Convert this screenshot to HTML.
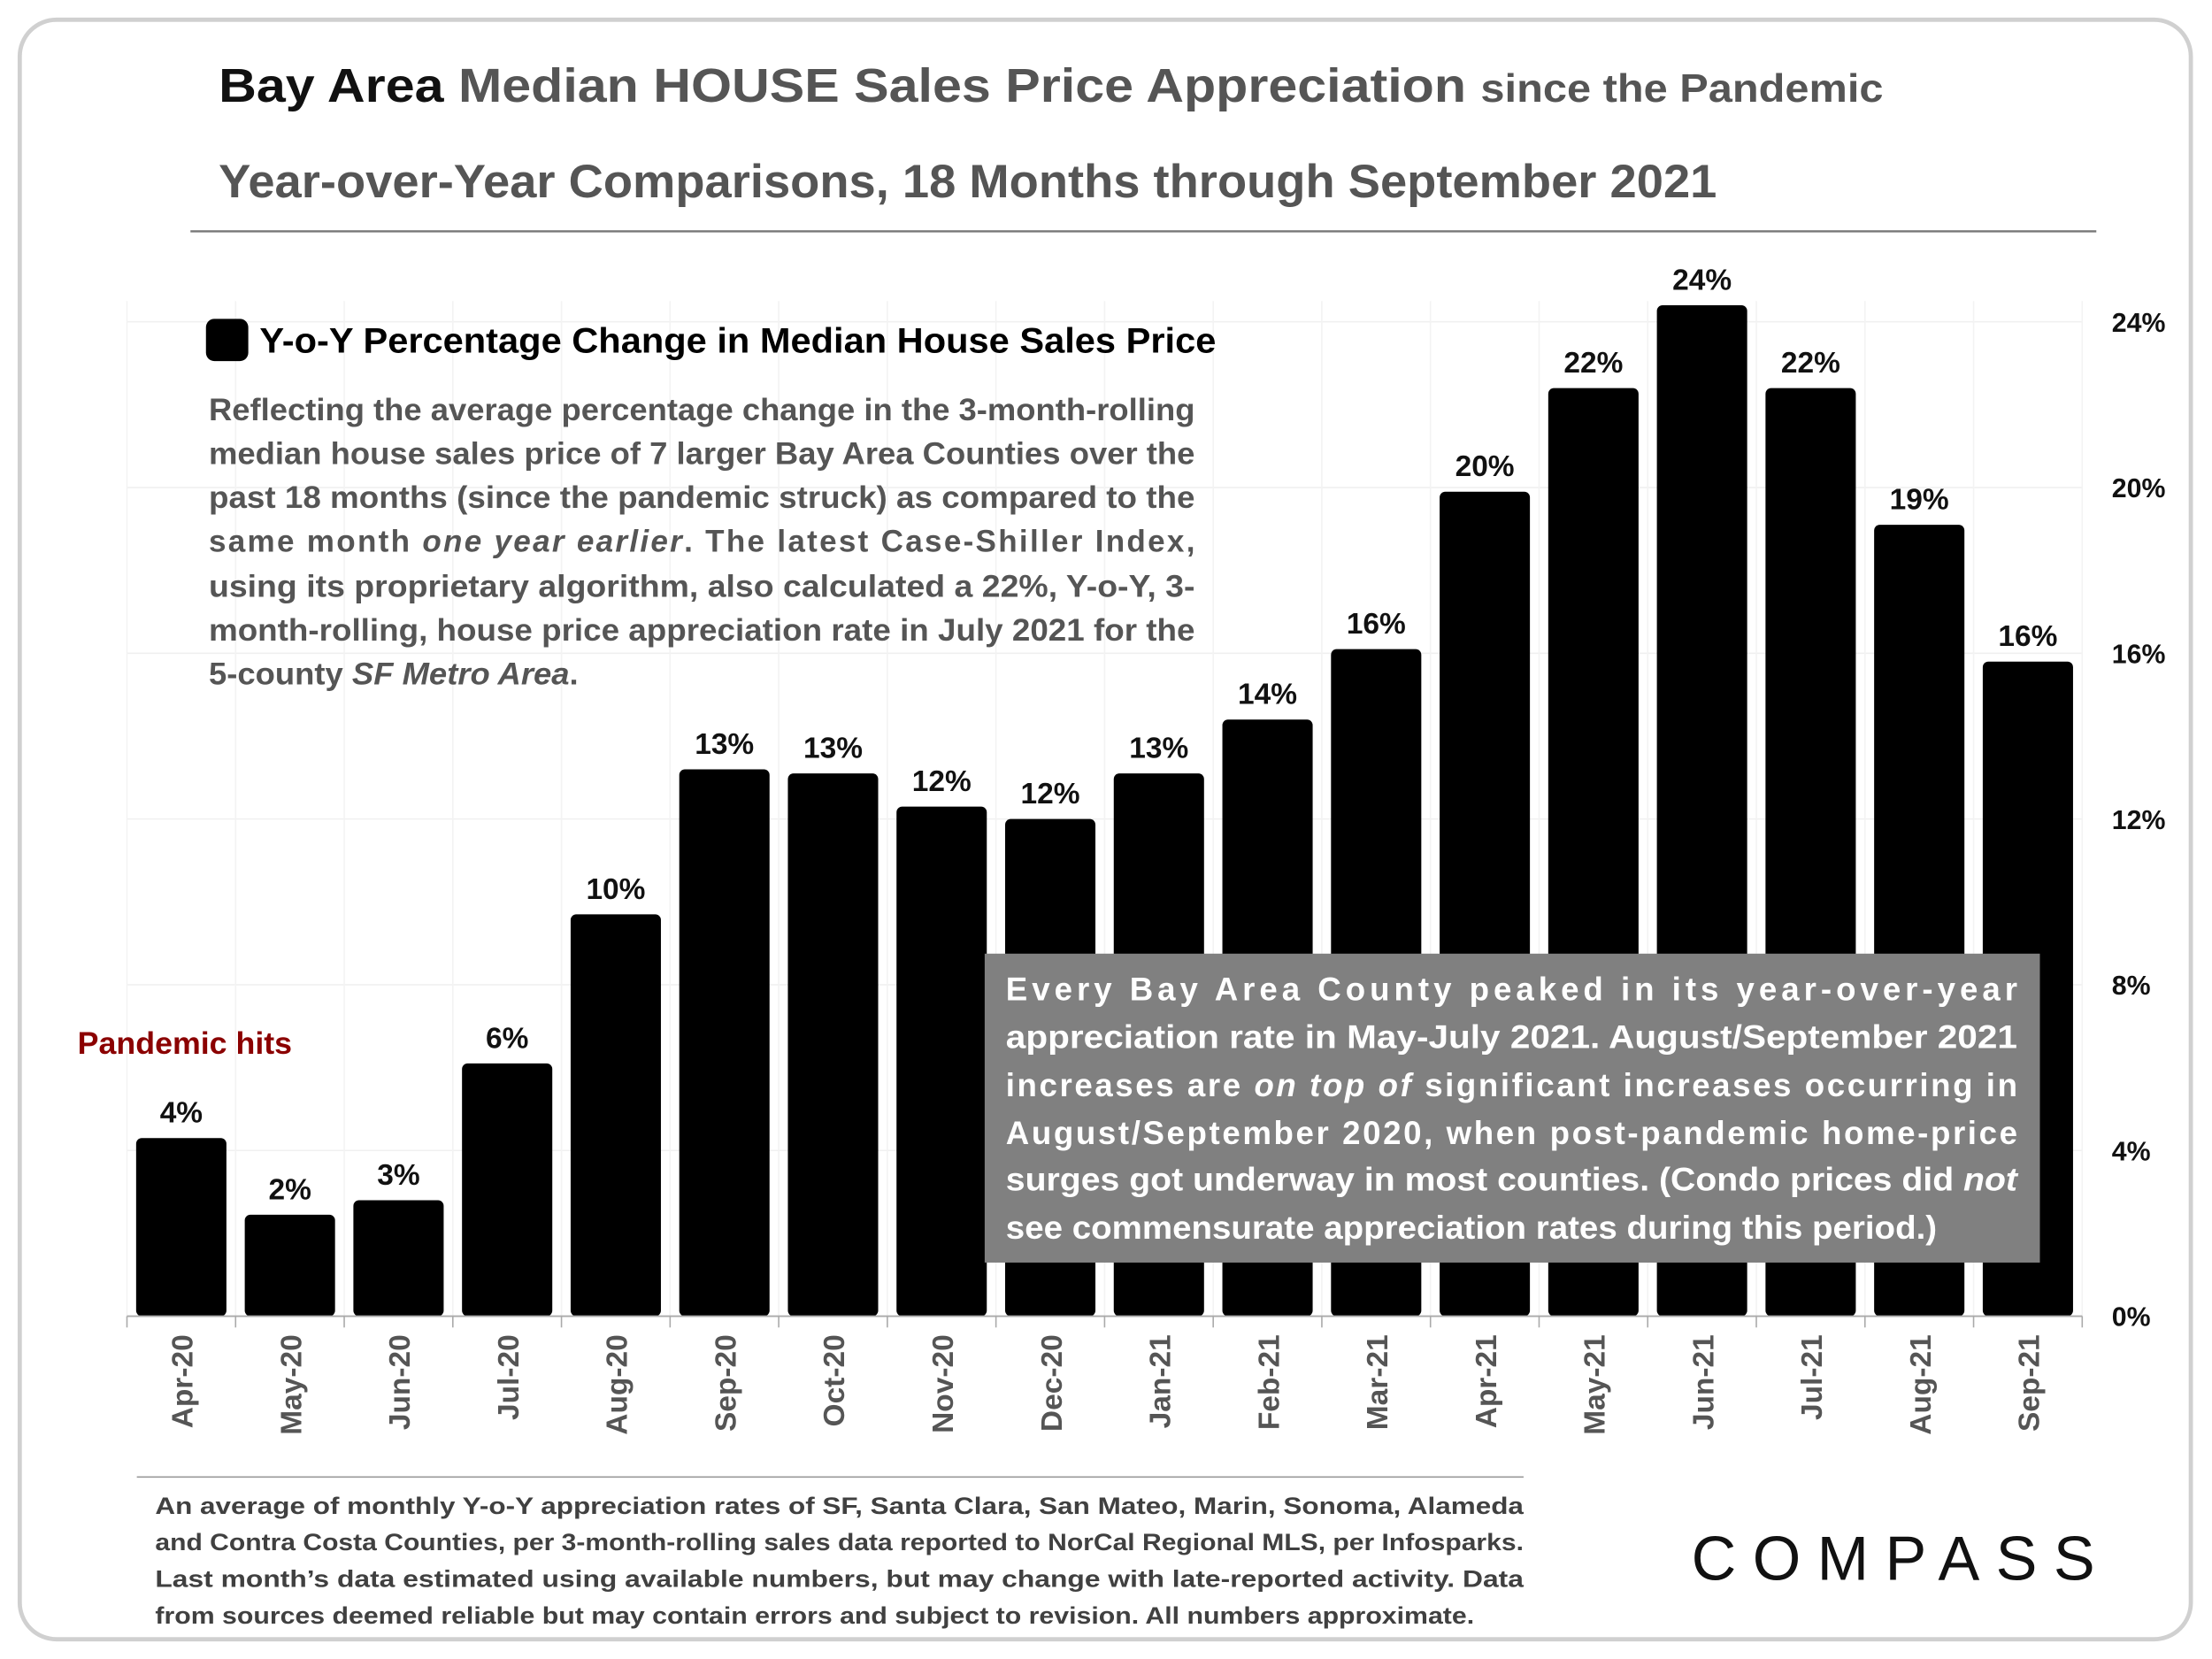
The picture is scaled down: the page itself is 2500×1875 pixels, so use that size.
<!DOCTYPE html>
<html><head><meta charset="utf-8"><style>
html,body{margin:0;padding:0;background:#fff;}
svg{display:block;font-family:"Liberation Sans",sans-serif;}
</style></head><body>
<svg id="chart" width="2500" height="1875" viewBox="0 0 1568 1176" xmlns="http://www.w3.org/2000/svg">
<rect x="14" y="14" width="1539" height="1148" rx="26" fill="#fff" stroke="#d0d0d0" stroke-width="3"/>
<text x="155" y="72" font-size="34" font-weight="bold" fill="#555" textLength="1180" lengthAdjust="spacingAndGlyphs"><tspan fill="#111">Bay Area</tspan> Median HOUSE Sales Price Appreciation <tspan font-size="28">since the Pandemic</tspan></text>
<text x="155" y="140" font-size="33" font-weight="bold" fill="#555" textLength="1062" lengthAdjust="spacingAndGlyphs">Year-over-Year Comparisons, 18 Months through September 2021</text>
<line x1="135" y1="164" x2="1486" y2="164" stroke="#777" stroke-width="1.5"/>
<g id="grid"></g>
<g id="bars"></g>
<g id="yticks"></g>
<g id="xticks"></g>
<rect x="146" y="226" width="30" height="30" rx="6" fill="#000"/>
<text x="184" y="250" font-size="25" font-weight="bold" fill="#000" textLength="678" lengthAdjust="spacingAndGlyphs">Y-o-Y Percentage Change in Median House Sales Price</text>
<g font-size="22" font-weight="bold" fill="#555">
<text x="148" y="298" textLength="699" lengthAdjust="spacingAndGlyphs">Reflecting the average percentage change in the 3-month-rolling</text>
<text x="148" y="329" textLength="699" lengthAdjust="spacingAndGlyphs">median house sales price of 7 larger Bay Area Counties over the</text>
<text x="148" y="360" textLength="699" lengthAdjust="spacingAndGlyphs">past 18 months (since the pandemic struck) as compared to the</text>
<text x="148" y="391" textLength="699" lengthAdjust="spacing">same month <tspan font-style="italic">one year earlier</tspan>. The latest Case-Shiller Index,</text>
<text x="148" y="423" textLength="699" lengthAdjust="spacingAndGlyphs">using its proprietary algorithm, also calculated a 22%, Y-o-Y, 3-</text>
<text x="148" y="454" textLength="699" lengthAdjust="spacingAndGlyphs">month-rolling, house price appreciation rate in July 2021 for the</text>
<text x="148" y="485" textLength="262" lengthAdjust="spacingAndGlyphs">5-county <tspan font-style="italic">SF Metro Area</tspan>.</text>
</g>
<text x="55" y="747" font-size="22" font-weight="bold" fill="#8b0000" textLength="152" lengthAdjust="spacingAndGlyphs">Pandemic hits</text>
<rect x="698" y="676" width="748" height="219" fill="#808080"/>
<g font-size="23" font-weight="bold" fill="#fff">
<text x="713" y="709" textLength="717" lengthAdjust="spacing">Every Bay Area County peaked in its year-over-year</text>
<text x="713" y="743" textLength="717" lengthAdjust="spacingAndGlyphs">appreciation rate in May-July 2021. August/September 2021</text>
<text x="713" y="777" textLength="717" lengthAdjust="spacing">increases are <tspan font-style="italic">on top of</tspan> significant increases occurring in</text>
<text x="713" y="811" textLength="717" lengthAdjust="spacing">August/September 2020, when post-pandemic home-price</text>
<text x="713" y="844" textLength="717" lengthAdjust="spacingAndGlyphs">surges got underway in most counties. (Condo prices did <tspan font-style="italic">not</tspan></text>
<text x="713" y="878" textLength="660" lengthAdjust="spacingAndGlyphs">see commensurate appreciation rates during this period.)</text>
</g>
<line x1="97" y1="1047" x2="1080" y2="1047" stroke="#999" stroke-width="1"/>
<g font-size="17" font-weight="bold" fill="#404040">
<text x="110" y="1073" textLength="970" lengthAdjust="spacingAndGlyphs">An average of monthly Y-o-Y appreciation rates of SF, Santa Clara, San Mateo, Marin, Sonoma, Alameda</text>
<text x="110" y="1099" textLength="970" lengthAdjust="spacingAndGlyphs">and Contra Costa Counties, per 3-month-rolling sales data reported to NorCal Regional MLS, per Infosparks.</text>
<text x="110" y="1125" textLength="970" lengthAdjust="spacingAndGlyphs">Last month’s data estimated using available numbers, but may change with late-reported activity. Data</text>
<text x="110" y="1151" textLength="935" lengthAdjust="spacingAndGlyphs">from sources deemed reliable but may contain errors and subject to revision. All numbers approximate.</text>
</g>
<text x="1199" y="1120" font-size="44" fill="#111" textLength="286" lengthAdjust="spacing">COMPASS</text>
<script>
const categories = ["Apr-20","May-20","Jun-20","Jul-20","Aug-20","Sep-20","Oct-20","Nov-20","Dec-20","Jan-21","Feb-21","Mar-21","Apr-21","May-21","Jun-21","Jul-21","Aug-21","Sep-21"];
const values = [4.3,2.45,2.8,6.1,9.7,13.2,13.1,12.3,12.0,13.1,14.4,16.1,19.9,22.4,24.4,22.4,19.1,15.8];
const yTicks = [0,4,8,12,16,20,24];
const NS = "http://www.w3.org/2000/svg";
const x0 = 90, step = 77.0, baseY = 933, pxPer = 29.37, barW = 64;
function xCenter(i){ return x0 + step*(i+0.5); }
function yPos(v){ return baseY - v*pxPer; }
function mk(tag, attrs, parent){ const e=document.createElementNS(NS,tag); for(const k in attrs) e.setAttribute(k,attrs[k]); parent.appendChild(e); return e; }
const grid=document.getElementById('grid'), bars=document.getElementById('bars'), yt=document.getElementById('yticks'), xt=document.getElementById('xticks');
yTicks.forEach(t=>{
  if(t>0){ const g=mk('line',{x1:x0,x2:x0+step*categories.length,y1:yPos(t),y2:yPos(t),stroke:'#f0f0f0','stroke-width':1},grid);
  
   }
  const l=mk('text',{x:1497,y:yPos(t)+7,'font-size':19,'font-weight':'bold',fill:'#111'},yt);
  l.textContent=t+'%';
  
  
});
for(let i=0;i<=categories.length;i++){
  const g=mk('line',{x1:x0+step*i,x2:x0+step*i,y1:yPos(24.5),y2:baseY,stroke:'#f3f3f3','stroke-width':1},grid);
  
  
  const tk=mk('line',{x1:x0+step*i,x2:x0+step*i,y1:baseY,y2:baseY+8,stroke:'#aaa','stroke-width':1},xt);
  
  
}
const ax=mk('line',{x1:x0,x2:x0+step*categories.length,y1:baseY,y2:baseY,stroke:'#aaa','stroke-width':1.2},xt);


categories.forEach((c,i)=>{
  const cx=xCenter(i), top=yPos(values[i]);
  const b=mk('rect',{x:cx-barW/2,y:top,width:barW,height:baseY-top,rx:4,fill:'#000'},bars);
  
  
  const v=mk('text',{x:cx,y:top-11,'text-anchor':'middle','font-size':21,'font-weight':'bold',fill:'#111'},bars);
  v.textContent=Math.round(values[i])+'%';
  
  
  const t=mk('text',{x:0,y:0,'text-anchor':'end','font-size':21,'font-weight':'bold',fill:'#555',transform:`translate(${cx+8},946) rotate(-90)`},xt);
  t.textContent=c;
  
  
});
</script>
</svg>
</body></html>
